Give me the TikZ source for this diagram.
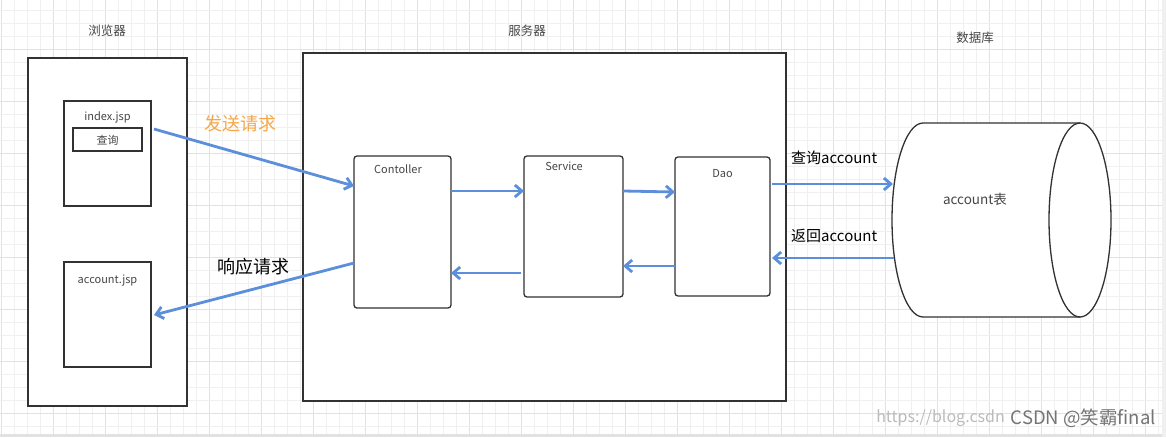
\documentclass[tikz,border=0pt]{standalone}
\usepackage{fontspec}
\setmainfont{Noto Sans CJK SC}
\usetikzlibrary{arrows.meta}
\definecolor{arrblue}{RGB}{92,143,219}
\definecolor{sendorange}{RGB}{245,167,74}
\definecolor{gridminor}{RGB}{240,240,240}
\definecolor{gridmajor}{RGB}{226,226,226}
\definecolor{boxline}{RGB}{50,50,50}
\definecolor{txtgray}{RGB}{70,70,70}
\tikzset{
  box/.style={draw=boxline, fill=white, line width=1.4pt, inner sep=0pt, outer sep=0pt},
  rbox/.style={box, rounded corners=3pt, line width=1.3pt},
  lbl/.style={text=txtgray, font=\fontsize{11}{13}\selectfont, inner sep=0pt},
  toplbl/.style={text=txtgray, font=\fontsize{12.5}{14}\selectfont, inner sep=0pt},
  arr/.style={draw=arrblue, line width=2.8pt, -{Straight Barb[length=7pt,width=12pt]}},
  biglbl/.style={font=\fontsize{18}{20}\selectfont, inner sep=0pt},
  midlbl/.style={font=\fontsize{15}{17}\selectfont, inner sep=0pt},
}
\begin{document}
\begin{tikzpicture}[x=1pt,y=-1pt]
\useasboundingbox (0,0) rectangle (1166,437);
\fill[white] (0,0) rectangle (1166,437);
% grid
\foreach \k in {0,...,89}{
  \pgfmathtruncatemacro{\m}{mod(\k,4)}
  \ifnum\m=0 \draw[gridmajor, line width=0.9pt] ({13*\k+1},0) -- ({13*\k+1},434);
  \else \draw[gridminor, line width=0.8pt] ({13*\k+1},0) -- ({13*\k+1},434); \fi
}
\foreach \k in {0,...,32}{
  \pgfmathtruncatemacro{\m}{mod(\k,4)}
  \ifnum\m=3 \draw[gridmajor, line width=0.9pt] (0,{13*\k+10}) -- (1162,{13*\k+10});
  \else \draw[gridminor, line width=0.8pt] (0,{13*\k+10}) -- (1162,{13*\k+10}); \fi
}
\fill[gridmajor] (0,434) rectangle (1166,437);
\fill[gridminor] (1162,0) rectangle (1166,437);

% browser
\node[toplbl] (tbrowser) at (107,31) {浏览器};
\node[box, minimum width=159, minimum height=348] (browser) at (107.5,232) {};
\node[box, line width=1.3pt, minimum width=87, minimum height=105] (index) at (107.5,153.5) {};
\node[lbl] (indexl) at (107.5,117) {index.jsp};
\node[box, line width=1.3pt, minimum width=69, minimum height=23] (query) at (107.5,139.5) {};
\node[lbl] (queryl) at (107.5,140) {查询};
\node[box, line width=1.3pt, minimum width=87, minimum height=105] (accjsp) at (107.5,314.5) {};
\node[lbl] (accjspl) at (107.5,281) {account.jsp};

% server
\node[toplbl] (tserver) at (527,31) {服务器};
\node[box, minimum width=483, minimum height=348] (server) at (544.5,227) {};
\node[rbox, minimum width=97, minimum height=152] (ctrl) at (402.5,232) {};
\node[lbl] (ctrll) at (398,169) {Contoller};
\node[rbox, minimum width=99, minimum height=141] (service) at (573.5,226.5) {};
\node[lbl] (servicel) at (564,166) {Service};
\node[rbox, minimum width=95, minimum height=139] (dao) at (722.5,226.5) {};
\node[lbl] (daol) at (722.5,173.5) {Dao};

% database
\node[toplbl] (tdb) at (975,38) {数据库};
\fill[white] (1080,123) -- (923,123) arc[start angle=90, end angle=270, x radius=31pt, y radius=97pt] -- (1080,317) arc[start angle=-90, end angle=90, x radius=31pt, y radius=97pt] -- cycle;
\draw[boxline, line width=1.3pt] (1080,123) -- (923,123) arc[start angle=90, end angle=270, x radius=31pt, y radius=97pt] -- (1080,317);
\draw[boxline, line width=1.3pt] (1080,220) ellipse [x radius=31pt, y radius=97pt];
\node[text=txtgray, font=\fontsize{13.5}{15}\selectfont, inner sep=0pt] (db) at (975,199) {account表};
\coordinate (dbin) at (893,184);
\coordinate (dbout) at (894,258);

% arrows
\draw[arr] ([xshift=3pt]index.east |- 0,129) -- (ctrl.west |- 0,186);
\draw[arr] (ctrl.west |- 0,263) -- ([xshift=3pt]accjsp.east |- 0,315);
\draw[arr] (ctrl.east |- 0,191) -- (service.west |- 0,191);
\draw[arr] (service.east |- 0,191) -- (dao.west |- 0,192);
\draw[arr] (dao.west |- 0,266) -- (service.east |- 0,266);
\draw[arr] ([xshift=-3pt]service.west |- 0,273) -- (ctrl.east |- 0,273);
\draw[arr] ([xshift=2pt]dao.east |- 0,184) -- (dbin);
\draw[arr] (dbout) -- ([xshift=2pt]dao.east |- 0,258);

% labels
\node[biglbl, text=sendorange] (send) at (240,124) {发送请求};
\node[biglbl] (resp) at (253.5,267) {响应请求};
\node[midlbl, anchor=west] (qacc) at (791,158) {查询account};
\node[midlbl, anchor=west] (racc) at (791,236) {返回account};

% watermark
\node[text=gridmajor!60!gray, font=\fontsize{16}{18}\selectfont, inner sep=0pt, anchor=east] (url) at (1005,418) {https://blog.csdn};
\node[text=txtgray!75, font=\fontsize{18.5}{20}\selectfont, inner sep=0pt, anchor=east] (wm) at (1156,418) {CSDN @笑霸final};
\end{tikzpicture}
\end{document}
